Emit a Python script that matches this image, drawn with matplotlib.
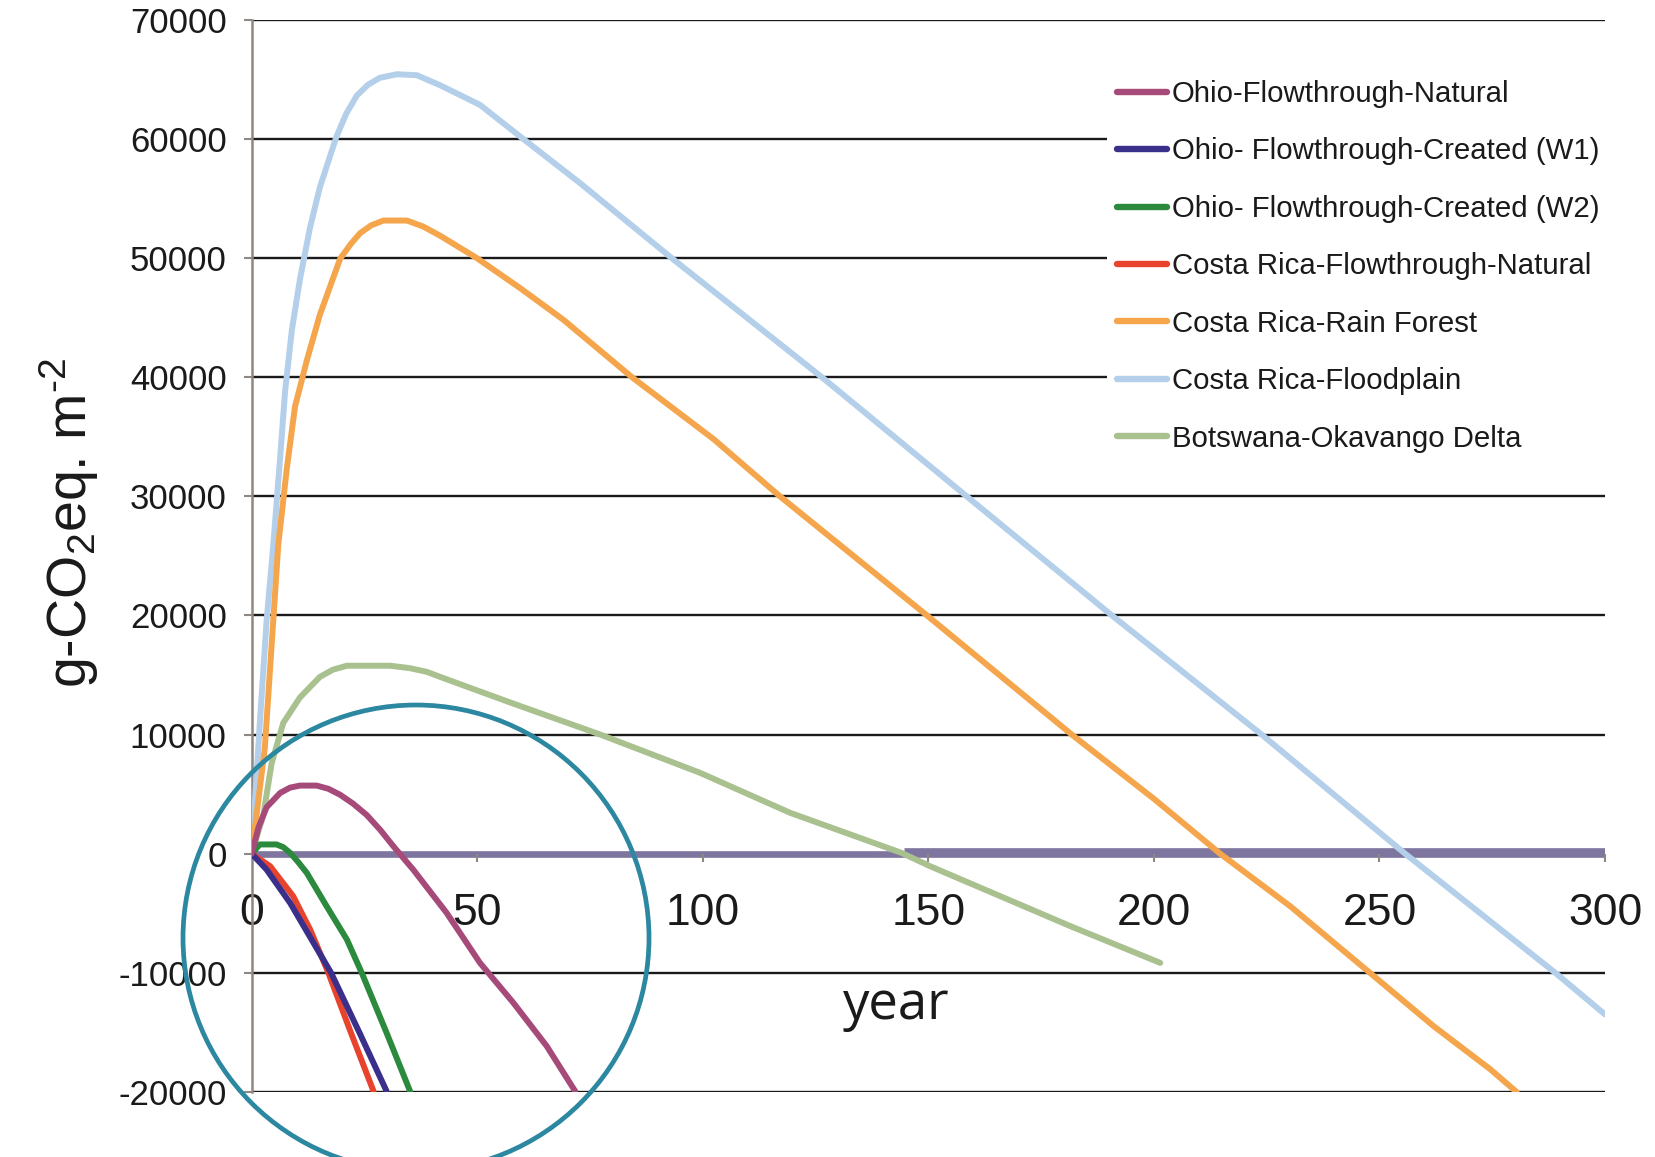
import matplotlib
matplotlib.use("Agg")
import matplotlib.pyplot as plt
from matplotlib import font_manager
from matplotlib.patches import Ellipse
from matplotlib.lines import Line2D


def pick_font(names):
    available = {f.name for f in font_manager.fontManager.ttflist}
    for n in names:
        if n in available:
            return n
    return "DejaVu Sans"


SANS = pick_font(["Liberation Sans", "Arial", "DejaVu Sans"])
NARROW = pick_font(["Liberation Sans Narrow", "Liberation Sans", "DejaVu Sans"])
HUMANIST = pick_font(["Open Sans", "Noto Sans", "Lato", "DejaVu Sans"])

plt.rcParams["font.family"] = [SANS, "DejaVu Sans"]
plt.rcParams["mathtext.fontset"] = "custom"
plt.rcParams["mathtext.rm"] = NARROW
plt.rcParams["mathtext.it"] = NARROW

# ---- series (year, g-CO2eq m^-2) ----
ohio_nat_years = [0, 1.5, 3.3, 6.3, 8.5, 10.7, 14.4, 17.0, 19.6, 22.5, 25.5, 28.5, 31.4, 35.8, 43.2,
                  50.6, 58, 65.4, 71.7]
ohio_nat_vals = [0, 2200, 3900, 5100, 5550, 5720, 5720, 5450, 4950, 4200, 3250, 2000, 630, -1330,
                 -4960, -9160, -12510, -16150, -19930]

ohio_w1_years = [0, 3.3, 8.5, 13.7, 17.6, 23.9, 29.9]
ohio_w1_vals = [0, -1330, -4120, -7480, -10000, -15030, -19930]

ohio_w2_years = [0, 1.8, 5.5, 7.0, 8.5, 10.3, 12.2, 16.6, 21.1, 24.4, 29.9, 35.1]
ohio_w2_vals = [0, 780, 780, 550, 80, -700, -1600, -4400, -7200, -10000, -15030, -19930]

cr_flow_years = [0, 4.1, 9.2, 13.0, 17.0, 22.0, 27.0]
cr_flow_vals = [0, -1050, -3570, -6400, -10000, -15030, -19930]

cr_rain_years = [0, 2.9, 4.4, 5.9, 7.8, 9.6, 12.2, 15.1, 19.6, 22.0, 24, 26.5, 29.2, 34.4, 38.0,
                 41.8, 49.9, 59.5, 69.1, 84.3, 102.4, 117.1, 149.7, 181.8, 200.2, 214.7, 230.2,
                 247.9, 262, 274.6, 280.4]
cr_rain_vals = [0, 8840, 17410, 25970, 32390, 37530, 41380, 45230, 49940, 51200, 52080, 52750,
                53150, 53150, 52650, 51870, 50000, 47480, 44820, 40000, 34800, 30000, 20000, 10000,
                4550, 0, -4400, -10000, -14470, -18100, -20000]

cr_flood_years = [0, 1.8, 3.3, 4.8, 6.3, 7.4, 8.9, 10.7, 12.9, 15.1, 18.8, 21.0, 23.3, 25.8, 28.4,
                  32.2, 36.6, 41.8, 50.6, 60.2, 72.8, 93.1, 126.4, 158.5, 190.7, 223.9, 255.7, 289,
                  300]
cr_flood_vals = [0, 10980, 19550, 25970, 33240, 38810, 43950, 48230, 52510, 55930, 60210, 62150,
                 63640, 64550, 65130, 65430, 65350, 64500, 62860, 60000, 56290, 50000, 40000,
                 30000, 20000, 10000, 0, -10000, -13490]

okavango_years = [0, 2.6, 4.4, 7.0, 10.7, 15.1, 18.0, 21.1, 30.7, 35.0, 38.8, 41.8, 58, 77.3, 99.4,
                  119.4, 144, 150.4, 181.5, 201.4]
okavango_vals = [0, 3280, 7570, 10980, 13120, 14840, 15450, 15780, 15780, 15580, 15270, 14840,
                 12600, 10000, 6790, 3430, 80, -1050, -6080, -9160]

# zero baseline drawn along the year axis
baseline_years = [0, 300]
baseline_vals = [0, 0]
baseline_step_years = [144.5, 300]
baseline_step_vals = [230, 230]

series = [
    ("Ohio-Flowthrough-Natural", ohio_nat_years, ohio_nat_vals, "#a64a7a"),
    ("Ohio- Flowthrough-Created (W1)", ohio_w1_years, ohio_w1_vals, "#3a2f8a"),
    ("Ohio- Flowthrough-Created (W2)", ohio_w2_years, ohio_w2_vals, "#2b8a3d"),
    ("Costa Rica-Flowthrough-Natural", cr_flow_years, cr_flow_vals, "#e8432d"),
    ("Costa Rica-Rain Forest", cr_rain_years, cr_rain_vals, "#f5a64c"),
    ("Costa Rica-Floodplain", cr_flood_years, cr_flood_vals, "#b3cfea"),
    ("Botswana-Okavango Delta", okavango_years, okavango_vals, "#a9c08f"),
]

y_ticks = [-20000, -10000, 0, 10000, 20000, 30000, 40000, 50000, 60000, 70000]
x_ticks = [0, 50, 100, 150, 200, 250, 300]

W, H = 1656, 1157
fig = plt.figure(figsize=(W / 100, H / 100), dpi=100)
ax = fig.add_axes([251.7 / W, 1 - 1092 / H, (1605 - 251.7) / W, (1092 - 19.8) / H])

ax.set_xlim(0, 300)
ax.set_ylim(-20000, 70000)

# horizontal grid
for yv in y_ticks:
    ax.axhline(yv, color="#1a1a1a", lw=1.7, zorder=1)

# purple zero line
ax.plot(baseline_years, baseline_vals, color="#7f76a0", lw=4.8, solid_capstyle="butt", zorder=1.5)
ax.plot(baseline_step_years, baseline_step_vals, color="#7f76a0", lw=4.8, solid_capstyle="butt", zorder=1.5)

handles = []
for label, xs, ys, col in series[::-1]:
    ax.plot(xs, ys, color=col, lw=4.3, solid_capstyle="round", solid_joinstyle="round", zorder=3)
for label, xs, ys, col in series:
    handles.append(Line2D([0], [0], color=col, lw=4.6, solid_capstyle="round"))

ax.spines["top"].set_visible(False)
ax.spines["right"].set_visible(False)
ax.spines["bottom"].set_position(("data", 0))
ax.spines["bottom"].set_visible(False)
ax.spines["left"].set_color("#8e8782")
ax.spines["left"].set_linewidth(1.8)
ax.spines["left"].set_zorder(2)

ax.set_yticks(y_ticks)
ax.set_yticklabels([str(v) for v in y_ticks], fontsize=25, family=SANS, color="#1a1a1a")
ax.set_xticks(x_ticks)
ax.set_xticklabels([str(v) for v in x_ticks], fontsize=32, family=NARROW, color="#1a1a1a")
ax.tick_params(axis="y", direction="out", length=6, width=1.5, color="#8e8782", pad=12)
ax.tick_params(axis="x", direction="out", length=6, width=1.5, color="#8e8782", pad=22)
ax.xaxis.get_major_ticks()[0].tick1line.set_visible(False)

# legend on a white panel that masks the grid behind it
leg_fs = 21.2
leg_px = leg_fs * 100 / 72
pad_px = 10
leg = ax.legend(handles, [s[0] for s in series], loc="upper left",
                bbox_to_anchor=((1117 - pad_px) / W, 1 - (80 - pad_px) / H),
                bbox_transform=fig.transFigure,
                frameon=True, fancybox=False, facecolor="white", edgecolor="none", framealpha=1,
                fontsize=leg_fs, handlelength=1.7, handletextpad=0.17,
                labelspacing=1.0, borderpad=pad_px / leg_px, borderaxespad=0)
leg.set_zorder(5)
for t in leg.get_texts():
    t.set_color("#1a1a1a")

fig.text(896 / W, 1 - 1005 / H, "year", family=[HUMANIST, "DejaVu Sans"], fontsize=38,
         ha="center", va="center", color="#1a1a1a")
fig.text(69 / W, 1 - 523 / H, r"g-CO$_2$eq. m$^{\text{-}2}$", family=[NARROW, "DejaVu Sans"],
         fontsize=40, rotation=90, ha="center", va="center", color="#1a1a1a")

# highlight ring around the early-year curves
ring = Ellipse((416.0 / W, 1 - 938 / H), width=2 * 233 / W, height=2 * 233 / H,
               transform=fig.transFigure, fill=False, edgecolor="#2c87a0", lw=3.4, zorder=10)
fig.patches.append(ring)

fig.savefig("out.png", dpi=100)
